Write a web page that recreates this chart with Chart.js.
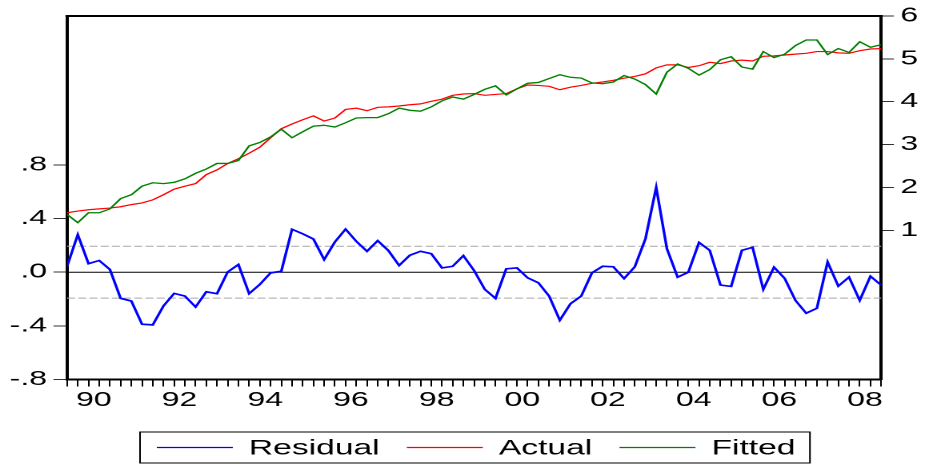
<!DOCTYPE html>
<html>
<head>
<meta charset="utf-8">
<script src="https://cdn.jsdelivr.net/npm/chart.js@4.4.1/dist/chart.umd.min.js"></script>
<style>
  html, body { margin: 0; padding: 0; background: #fff; overflow: hidden; }
  /* the EViews graph is stretched sideways, so draw narrow and scale it out */
  #wrap { position: relative; width: 578px; height: 467px; transform: scaleX(1.6003); transform-origin: 0 0; }
</style>
</head>
<body>
<div id="wrap"><canvas id="resid_chart"></canvas></div>
<script>
// quarterly sample 1989Q4 - 2008Q4
var firstYear = 1989, firstQuarter = 4, nObs = 77;
var quarters = [];
for (var i = 0; i < nObs; i++) {
    var q = firstQuarter - 1 + i;
    quarters.push((firstYear + Math.floor(q / 4)) + 'Q' + (q % 4 + 1));
}

var residual = [0.044, 0.28, 0.064, 0.087, 0.02, -0.195, -0.215, -0.388, -0.393, -0.252,
    -0.158, -0.178, -0.259, -0.146, -0.16, 0.002, 0.057, -0.16, -0.091, -0.005,
    0.007, 0.32, 0.286, 0.247, 0.094, 0.225, 0.321, 0.23, 0.156, 0.235,
    0.161, 0.05, 0.126, 0.156, 0.138, 0.032, 0.044, 0.123, 0.012, -0.128,
    -0.195, 0.025, 0.032, -0.042, -0.079, -0.178, -0.358, -0.235, -0.178, -0.005,
    0.044, 0.04, -0.047, 0.04, 0.25, 0.632, 0.175, -0.037, 0.0, 0.222,
    0.163, -0.096, -0.106, 0.163, 0.185, -0.128, 0.037, -0.047, -0.21, -0.306,
    -0.269, 0.076, -0.104, -0.037, -0.21, -0.03, -0.096];

var actual = [1.41, 1.45, 1.48, 1.50, 1.52, 1.55, 1.60, 1.64, 1.71, 1.83,
    1.96, 2.03, 2.09, 2.30, 2.41, 2.56, 2.67, 2.80, 2.94, 3.16,
    3.37, 3.48, 3.58, 3.67, 3.55, 3.62, 3.82, 3.85, 3.79, 3.87,
    3.88, 3.90, 3.93, 3.95, 4.01, 4.06, 4.15, 4.18, 4.19, 4.15,
    4.17, 4.19, 4.30, 4.39, 4.38, 4.36, 4.28, 4.34, 4.38, 4.43,
    4.46, 4.50, 4.55, 4.59, 4.65, 4.79, 4.86, 4.86, 4.80, 4.84,
    4.92, 4.89, 4.95, 4.97, 4.95, 5.06, 5.07, 5.09, 5.11, 5.13,
    5.17, 5.17, 5.14, 5.13, 5.19, 5.23, 5.24];

var fitted = [1.37, 1.18, 1.41, 1.41, 1.50, 1.74, 1.83, 2.03, 2.11, 2.09,
    2.12, 2.20, 2.33, 2.43, 2.56, 2.56, 2.63, 2.97, 3.05, 3.18,
    3.36, 3.16, 3.30, 3.43, 3.45, 3.41, 3.51, 3.62, 3.63, 3.63,
    3.72, 3.85, 3.80, 3.78, 3.88, 4.02, 4.11, 4.06, 4.17, 4.29,
    4.37, 4.16, 4.30, 4.43, 4.45, 4.54, 4.63, 4.57, 4.55, 4.44,
    4.42, 4.46, 4.61, 4.53, 4.40, 4.18, 4.69, 4.88, 4.78, 4.62,
    4.75, 4.98, 5.05, 4.81, 4.76, 5.17, 5.03, 5.11, 5.31, 5.44,
    5.44, 5.10, 5.24, 5.15, 5.40, 5.27, 5.33];

var seBand = 0.193;   // +/- 1 S.E. dashed lines on the residual axis

var yearTicks = [1990, 1992, 1994, 1996, 1998, 2000, 2002, 2004, 2006, 2008];
var yearLabels = ['90', '92', '94', '96', '98', '00', '02', '04', '06', '08'];
var resTicks = [-0.8, -0.4, 0, 0.4, 0.8];
var resTickLabels = ['-.8', '-.4', '.0', '.4', '.8'];
var actTicks = [1, 2, 3, 4, 5, 6];
var actTickLabels = ['1', '2', '3', '4', '5', '6'];

function quarterIndex(year, qtr) {
    return (year - firstYear) * 4 + (qtr - firstQuarter);
}
function toPoints(arr) {
    return arr.map(function(v, i) { return {x: i, y: v}; });
}

var FONT = '"Liberation Sans", Arial, sans-serif';

// zero line + S.E. band, drawn under the series
var refLines = {
    id: 'refLines',
    beforeDatasetsDraw: function(chart) {
        var ctx = chart.ctx, a = chart.chartArea, ys = chart.scales.res;
        ctx.save();
        ctx.lineWidth = 1;
        ctx.strokeStyle = '#000';
        var y0 = ys.getPixelForValue(0);
        ctx.beginPath(); ctx.moveTo(a.left, y0); ctx.lineTo(a.right, y0); ctx.stroke();
        ctx.strokeStyle = '#a8a8a8';
        ctx.setLineDash([5, 2]);
        [seBand, -seBand].forEach(function(v) {
            var y = ys.getPixelForValue(v);
            ctx.beginPath(); ctx.moveTo(a.left, y); ctx.lineTo(a.right, y); ctx.stroke();
        });
        ctx.restore();
    },
    afterDraw: function(chart) {
        // top edge of the frame (other three sides are the axis borders)
        var ctx = chart.ctx, a = chart.chartArea;
        ctx.save();
        ctx.strokeStyle = '#000';
        ctx.lineWidth = 2;
        ctx.beginPath(); ctx.moveTo(a.left - 1, a.top); ctx.lineTo(a.right + 1, a.top); ctx.stroke();
        ctx.restore();
    }
};

// boxed legend like EViews
var boxLegend = {
    id: 'boxLegend',
    afterDraw: function(chart) {
        var ctx = chart.ctx;
        var sets = chart.data.datasets;
        var left = 87.5, top = 432, h = 31, mid = top + h / 2;
        var x = left + 10.5;
        ctx.save();
        ctx.font = '21px ' + FONT;
        ctx.textBaseline = 'middle';
        sets.forEach(function(ds, k) {
            var col = chart.getDatasetMeta(k).dataset.options.borderColor;
            ctx.strokeStyle = col;
            ctx.lineWidth = 1.2;
            ctx.beginPath(); ctx.moveTo(x, mid); ctx.lineTo(x + 47.5, mid); ctx.stroke();
            x += 47.5 + 10;
            ctx.fillStyle = '#000';
            ctx.fillText(ds.label, x, mid + 1);
            x += ctx.measureText(ds.label).width + (k < sets.length - 1 ? 17 : 9);
        });
        ctx.strokeStyle = '#000';
        ctx.lineWidth = 1;
        ctx.strokeRect(left, top, x - left, h);
        ctx.restore();
    }
};

var ctx = document.getElementById('resid_chart').getContext('2d');
var residChart = new Chart(ctx, {
    type: 'line',
    data: {
        labels: quarters,
        datasets: [
            {
                label: 'Residual',
                data: toPoints(residual),
                yAxisID: 'res',
                borderColor: '#0000ff',
                borderWidth: 1.7,
                order: 3
            },
            {
                label: 'Actual',
                data: toPoints(actual),
                yAxisID: 'act',
                borderColor: '#ff0000',
                borderWidth: 1.2,
                order: 2
            },
            {
                label: 'Fitted',
                data: toPoints(fitted),
                yAxisID: 'act',
                borderColor: '#008000',
                borderWidth: 1.3,
                order: 1
            }
        ]
    },
    options: {
        responsive: true,
        maintainAspectRatio: false,
        animation: false,
        devicePixelRatio: 2,
        layout: {
            padding: { left: 0, right: 0, top: 13, bottom: 47.5 }
        },
        elements: {
            point: { radius: 0 },
            line: { tension: 0, fill: false }
        },
        plugins: {
            legend: { display: false },
            tooltip: { enabled: false }
        },
        scales: {
            x: {
                type: 'linear',
                position: 'bottom',
                min: 0,
                max: nObs - 1,
                border: { display: true, color: '#000', width: 2 },
                grid: {
                    drawOnChartArea: false,
                    drawTicks: true,
                    tickLength: 7,
                    tickWidth: 1,
                    tickColor: function(c) {
                        return (c.tick && Number.isInteger(c.tick.value)) ? '#000' : 'rgba(0,0,0,0)';
                    }
                },
                afterBuildTicks: function(scale) {
                    var t = [];
                    for (var i = 0; i < nObs; i++) t.push({ value: i });
                    yearTicks.forEach(function(y, k) {
                        t.push({ value: quarterIndex(y, 2) + 0.5, yearText: yearLabels[k] });
                    });
                    t.sort(function(a, b) { return a.value - b.value; });
                    scale.ticks = t;
                },
                afterFit: function(scale) { scale.height = 40; },
                ticks: {
                    autoSkip: false,
                    maxRotation: 0,
                    padding: 2,
                    color: '#000',
                    font: { family: FONT, size: 20 },
                    callback: function(value, index, ticks) {
                        return ticks[index].yearText || '';
                    }
                }
            },
            res: {
                type: 'linear',
                position: 'left',
                min: -0.8,
                max: 1.91,
                border: { display: true, color: '#000', width: 2 },
                grid: { drawOnChartArea: false, tickLength: 8.5, tickColor: '#333' },
                afterBuildTicks: function(scale) {
                    scale.ticks = resTicks.map(function(v) { return { value: v }; });
                },
                afterFit: function(scale) { scale.width = 41.9; },
                ticks: {
                    padding: 4,
                    color: '#000',
                    font: { family: FONT, size: 20 },
                    callback: function(value, index) { return resTickLabels[index]; }
                }
            },
            act: {
                type: 'linear',
                position: 'right',
                min: -2.48,
                max: 6,
                border: { display: true, color: '#000', width: 2 },
                grid: { drawOnChartArea: false, tickLength: 8, tickColor: '#333' },
                afterBuildTicks: function(scale) {
                    scale.ticks = actTicks.map(function(v) { return { value: v }; });
                },
                afterFit: function(scale) { scale.width = 27.4; },
                ticks: {
                    padding: 4,
                    color: '#000',
                    font: { family: FONT, size: 20 },
                    callback: function(value, index) { return actTickLabels[index]; }
                }
            }
        }
    },
    plugins: [refLines, boxLegend]
});
</script>
</body>
</html>
